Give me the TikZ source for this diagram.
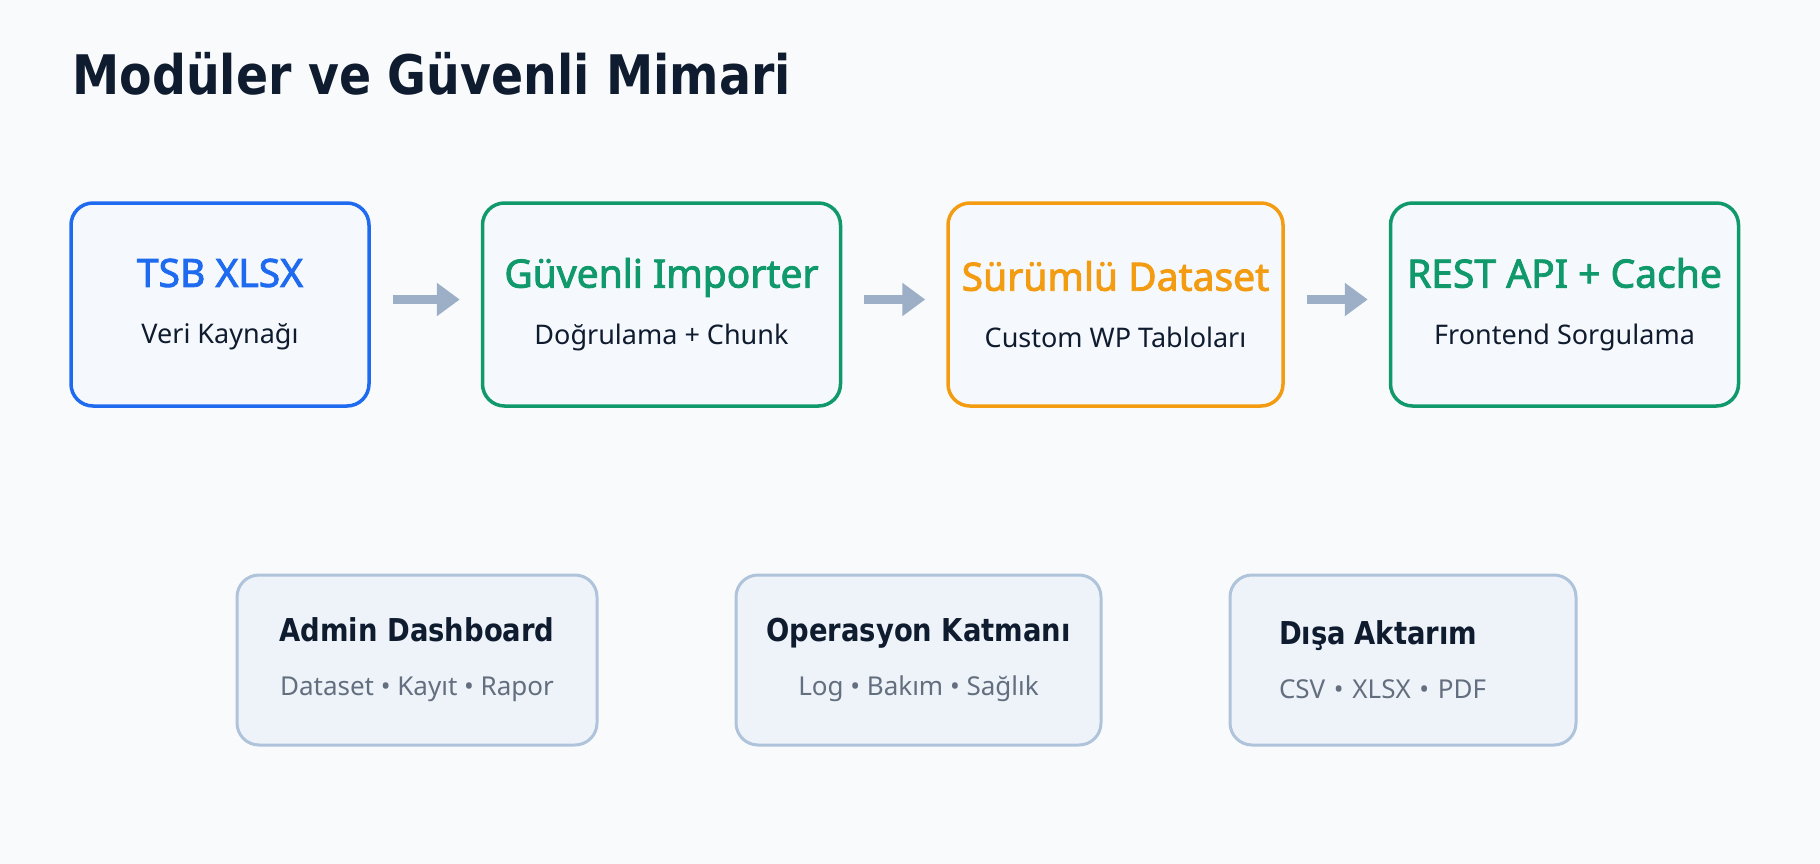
\documentclass[tikz,border=0pt]{standalone}
\usepackage{fontspec}
\usepackage{xcolor}
\usetikzlibrary{positioning,arrows.meta}

\newfontfamily\headfont[FakeStretch=0.87]{DejaVu Sans}
\newfontfamily\bodyfont{Noto Sans}
\newfontfamily\stagefont[FakeBold=2.2]{Noto Sans}
\newcommand{\stagettl}{\stagefont\fontsize{39}{39}\selectfont}
\newcommand{\toolttl}{\headfont\bfseries\fontsize{31.5}{31.5}\selectfont\color{ink}}

\definecolor{pagebg}{HTML}{F9FAFC}
\definecolor{ink}{HTML}{0F1B2E}
\definecolor{mute}{HTML}{636E7E}
\definecolor{srcblue}{HTML}{1E6BF0}
\definecolor{okgreen}{HTML}{10996A}
\definecolor{verorange}{HTML}{F39C12}
\definecolor{stagefill}{HTML}{F5F8FC}
\definecolor{toolfill}{HTML}{EEF3F9}
\definecolor{tooldraw}{HTML}{AFC3DB}
\definecolor{flowc}{HTML}{9DAFC7}

\begin{document}
\begin{tikzpicture}[x=1pt, y=-1pt, node distance=104pt,
	stage/.style={rectangle, rounded corners=22pt, line width=3.5pt, fill=stagefill, minimum height=203pt, align=center, text=ink, font=\bodyfont\fontsize{27}{57}\selectfont},
	tool/.style={rectangle, rounded corners=22pt, line width=3pt, draw=tooldraw, fill=toolfill, minimum height=170pt, align=center, text=mute, font=\bodyfont\fontsize{26}{54}\selectfont},
	flow/.style={color=flowc, line width=9pt, -{Triangle[length=23pt 0 0,width=32pt 0 0]}, shorten <=22pt, shorten >=21pt}]
					\fill[pagebg] (0,0) rectangle (1820,864);
					\useasboundingbox (0,0) rectangle (1820,864);

					\node[anchor=base west, text=ink, font=\headfont\bfseries\fontsize{54.5}{54.5}\selectfont] (head) at (69,95) {Modüler ve Güvenli Mimari};

					\node[stage, draw=srcblue, minimum width=298pt] (src) at (220,304.5) {{\stagettl\color{srcblue}TSB XLSX}\\Veri Kaynağı};
					\node[stage, draw=okgreen, minimum width=358pt] (imp)[right=110pt of src] {{\stagettl\color{okgreen}Güvenli Importer}\\Doğrulama + Chunk};
					\node[stage, draw=verorange, minimum width=335pt] (ver)[right=of imp] {{\stagettl\color{verorange}Sürümlü Dataset}\\Custom WP Tabloları};
					\node[stage, draw=okgreen, minimum width=348pt] (api)[right=of ver] {{\stagettl\color{okgreen}REST API + Cache}\\Frontend Sorgulama};

					\node[tool, minimum width=360pt] (dash) at (417,660) {{\toolttl Admin Dashboard}\\Dataset • Kayıt • Rapor};
					\node[tool, minimum width=365pt] (ops)[right=136pt of dash] {{\toolttl Operasyon Katmanı}\\Log • Bakım • Sağlık};
					\node[tool, minimum width=346pt, text width=248pt, inner xsep=0pt, align=left] (exp)[right=126pt of ops] {{\toolttl Dışa Aktarım}\\CSV • XLSX • PDF};

					\path[flow]
						([yshift=5pt]src.east) edge ([yshift=5pt]imp.west)
						([yshift=5pt]imp.east) edge ([yshift=5pt]ver.west)
						([yshift=5pt]ver.east) edge ([yshift=5pt]api.west)
					;
				\end{tikzpicture}
\end{document}
